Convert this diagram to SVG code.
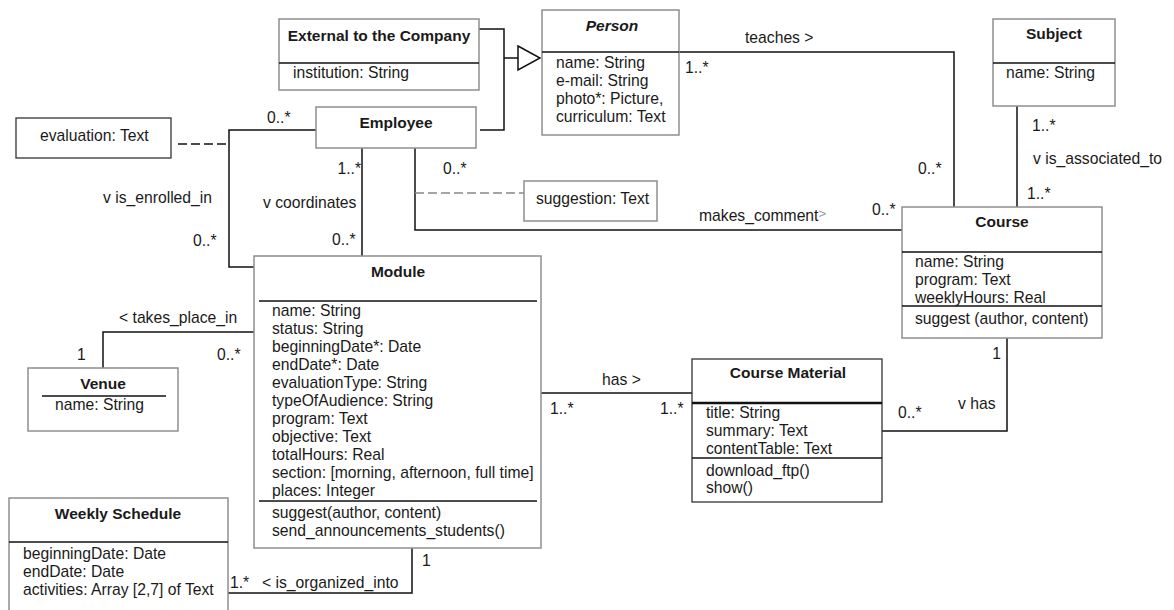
<svg xmlns="http://www.w3.org/2000/svg" width="1174" height="610" viewBox="0 0 1174 610">
  <style>
    text { font-family: "Liberation Sans", Arial, sans-serif; font-size: 15.7px; fill: #1a1a1a; }
    .title { font-weight: bold; text-anchor: middle; font-size: 15.5px; }
    .box { fill: #fff; stroke: #8f8f8f; stroke-width: 1.5; }
    .boxd { fill: #fff; stroke: #333; stroke-width: 1.3; }
    .div { stroke: #111; stroke-width: 1.5; }
    .edge { fill: none; stroke: #111; stroke-width: 1.5; }
    .dash { fill: none; stroke: #111; stroke-width: 1.5; stroke-dasharray: 9 4; }
    .dashg { fill: none; stroke: #888; stroke-width: 1.5; stroke-dasharray: 9 4; }
    .end { text-anchor: end; }
  </style>
  <rect width="1174" height="610" fill="#fff"/>

  <!-- connectors -->
  <g id="connectors">
    <!-- generalisation to Person -->
    <polyline class="edge" points="479,29 504,29 504,130 480,130"/>
    <line class="edge" x1="504" y1="58" x2="518" y2="58"/>
    <polygon points="518,46 540,58 518,70" fill="#fff" stroke="#111" stroke-width="1.5"/>
    <!-- teaches -->
    <polyline class="edge" points="679,52 954,52 954,207"/>
    <!-- is_associated_to -->
    <line class="edge" x1="1017" y1="106" x2="1017" y2="207"/>
    <!-- is_enrolled_in -->
    <polyline class="edge" points="316,130 229,130 229,267 254,267"/>
    <line class="dash" x1="178" y1="144" x2="229" y2="144"/>
    <!-- coordinates -->
    <line class="edge" x1="362" y1="148" x2="362" y2="256"/>
    <!-- makes_comment -->
    <polyline class="edge" points="415,148 415,230 903,230"/>
    <line class="dashg" x1="415" y1="193" x2="524" y2="193"/>
    <!-- takes_place_in -->
    <polyline class="edge" points="254,332 103,332 103,368"/>
    <!-- has (Module - Course Material) -->
    <line class="edge" x1="541" y1="393" x2="692" y2="393"/>
    <!-- has (Course - Course Material) -->
    <polyline class="edge" points="1007,338 1007,431 879,431"/>
    <!-- is_organized_into -->
    <polyline class="edge" points="412,548 412,593 228,593"/>
  </g>

  <!-- connector labels -->
  <g id="labels">
    <text x="745" y="43">teaches &gt;</text>
    <text x="685" y="73">1..*</text>
    <text x="918" y="174">0..*</text>
    <text x="1032" y="131">1..*</text>
    <text x="1033" y="164">v is_associated_to</text>
    <text x="1027" y="199">1..*</text>
    <text x="267" y="123">0..*</text>
    <text x="103" y="203">v is_enrolled_in</text>
    <text x="193" y="246">0..*</text>
    <text x="361" y="174" class="end">1..*</text>
    <text x="263" y="208">v coordinates</text>
    <text x="332" y="245">0..*</text>
    <text x="443" y="174">0..*</text>
    <text x="699" y="221">makes_comment<tspan fill="#999" font-size="13" dy="-3">&gt;</tspan></text>
    <text x="872" y="215">0..*</text>
    <text x="119" y="323">&lt; takes_place_in</text>
    <text x="77" y="360">1</text>
    <text x="217" y="360">0..*</text>
    <text x="602" y="385">has &gt;</text>
    <text x="550" y="414">1..*</text>
    <text x="660" y="414">1..*</text>
    <text x="1001" y="359" class="end">1</text>
    <text x="958" y="409">v has</text>
    <text x="898" y="418">0..*</text>
    <text x="422" y="566">1</text>
    <text x="230" y="588">1.*</text>
    <text x="262" y="588">&lt; is_organized_into</text>
  </g>

  <g id="external">
    <rect class="box" x="279" y="19" width="200" height="71"/>
    <line class="div" x1="279" y1="63" x2="479" y2="63"/>
    <text class="title" x="379" y="41">External to the Company</text>
    <text x="293" y="78">institution: String</text>
  </g>

  <g id="person">
    <rect class="box" x="542" y="10" width="137" height="125"/>
    <line class="div" x1="542" y1="52" x2="679" y2="52"/>
    <text class="title" x="612" y="31" font-style="italic">Person</text>
    <text x="556" y="68">name: String</text>
    <text x="556" y="86">e-mail: String</text>
    <text x="556" y="104">photo*: Picture,</text>
    <text x="556" y="122">curriculum: Text</text>
  </g>

  <g id="subject">
    <rect class="box" x="993" y="19" width="122" height="87"/>
    <line class="div" x1="993" y1="63" x2="1115" y2="63"/>
    <text class="title" x="1054" y="39">Subject</text>
    <text x="1006" y="78">name: String</text>
  </g>

  <g id="evaluation">
    <rect class="boxd" x="16" y="118" width="155" height="40"/>
    <text x="40" y="141">evaluation: Text</text>
  </g>

  <g id="employee">
    <rect class="box" x="316" y="107" width="160" height="41"/>
    <text class="title" x="396" y="128">Employee</text>
  </g>

  <g id="suggestion">
    <rect class="box" x="524" y="181" width="133" height="40"/>
    <text x="536" y="204">suggestion: Text</text>
  </g>

  <g id="course">
    <rect class="box" x="902" y="207" width="200" height="131"/>
    <line class="div" x1="902" y1="252" x2="1102" y2="252"/>
    <line class="div" x1="902" y1="306" x2="1102" y2="306"/>
    <text class="title" x="1002" y="227">Course</text>
    <text x="915" y="267">name: String</text>
    <text x="915" y="285">program: Text</text>
    <text x="915" y="303">weeklyHours: Real</text>
    <text x="915" y="324">suggest (author, content)</text>
  </g>

  <g id="module">
    <rect class="box" x="254" y="256" width="287" height="292"/>
    <line class="div" x1="259" y1="301" x2="537" y2="301"/>
    <line class="div" x1="259" y1="501" x2="537" y2="501"/>
    <text class="title" x="398" y="277">Module</text>
    <text x="272" y="316">name: String</text>
    <text x="272" y="334">status: String</text>
    <text x="272" y="352">beginningDate*: Date</text>
    <text x="272" y="370">endDate*: Date</text>
    <text x="272" y="388">evaluationType: String</text>
    <text x="272" y="406">typeOfAudience: String</text>
    <text x="272" y="424">program: Text</text>
    <text x="272" y="442">objective: Text</text>
    <text x="272" y="460">totalHours: Real</text>
    <text x="272" y="478">section: [morning, afternoon, full time]</text>
    <text x="272" y="496">places: Integer</text>
    <text x="272" y="518">suggest(author, content)</text>
    <text x="272" y="536">send_announcements_students()</text>
  </g>

  <g id="venue">
    <rect class="box" x="28" y="368" width="150" height="63"/>
    <line class="div" x1="42" y1="396" x2="166" y2="396"/>
    <text class="title" x="103" y="389">Venue</text>
    <text x="55" y="410">name: String</text>
  </g>

  <g id="course-material">
    <rect class="boxd" x="692" y="359" width="190" height="143"/>
    <line x1="692" y1="403" x2="882" y2="403" stroke="#111" stroke-width="2.5"/>
    <line class="div" x1="692" y1="458" x2="882" y2="458"/>
    <text class="title" x="788" y="378">Course Material</text>
    <text x="706" y="418">title: String</text>
    <text x="706" y="436">summary: Text</text>
    <text x="706" y="454">contentTable: Text</text>
    <text x="706" y="476">download_ftp()</text>
    <text x="706" y="493">show()</text>
  </g>

  <g id="weekly-schedule">
    <rect class="box" x="9" y="498" width="219" height="130"/>
    <line class="div" x1="9" y1="542" x2="228" y2="542"/>
    <text class="title" x="118" y="519">Weekly Schedule</text>
    <text x="23" y="559">beginningDate: Date</text>
    <text x="23" y="577">endDate: Date</text>
    <text x="23" y="595">activities: Array [2,7] of Text</text>
  </g>
</svg>
